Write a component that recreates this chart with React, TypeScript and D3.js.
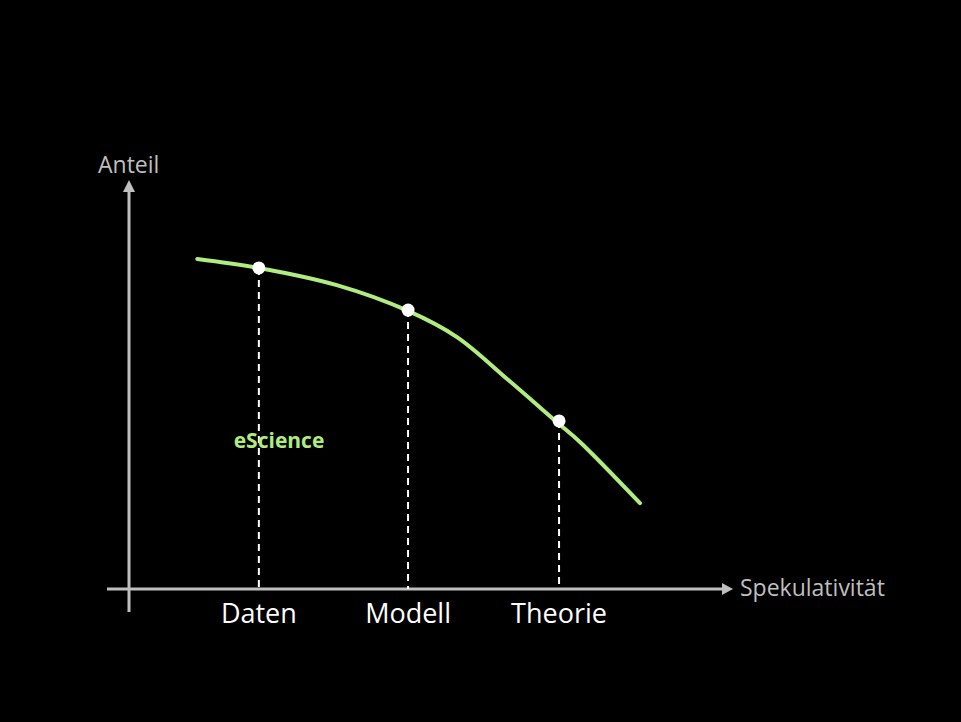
import * as d3 from "d3";

// Curve (x = Spekulativität, y = Anteil, both 0..100)
const curveX = [11.3, 21.5, 34.4, 46.2, 54.3, 62.8, 71.0, 74.7, 84.6];
const curveY = [80.7, 78.5, 74.3, 68.0, 61.6, 51.1, 40.6, 35.9, 21.0];

const categories = ["Daten", "Modell", "Theorie"];
const categoryX = [21.5, 46.2, 71.2];
const categoryY = [78.5, 68.2, 41.1];

const xTitle = "Spekulativität";
const yTitle = "Anteil";
const noteLabel = "eScience";

const W = 961;
const H = 722;
const axisColor = "#bfbfbf";
const green = "#b0ec80";
const font = "'Open Sans', 'Noto Sans', sans-serif";

export default function App() {
  const x = d3.scaleLinear().domain([0, 100]).range([129, 733]);
  const y = d3.scaleLinear().domain([0, 100]).range([589, 180]);

  const pts = curveX.map((v, i) => [v, curveY[i]] as [number, number]);
  const line = d3
    .line<[number, number]>()
    .x((d) => x(d[0]))
    .y((d) => y(d[1]))
    .curve(d3.curveCatmullRom.alpha(0.5));

  const x0 = x(0);
  const y0 = y(0);
  const tipX = x(100);
  const tipY = y(100);

  return (
    <div
      style={{
        position: "fixed",
        left: 0,
        top: 0,
        width: W,
        height: H,
        background: "#000",
      }}
    >
      <svg width={W} height={H} style={{ display: "block" }}>
        <rect width={W} height={H} fill="#000" />

        {/* axes */}
        <line x1={107} x2={tipX - 10} y1={y0} y2={y0} stroke={axisColor} strokeWidth={3} />
        <path
          d={`M${tipX},${y0} L${tipX - 11},${y0 - 6} L${tipX - 11},${y0 + 6} Z`}
          fill={axisColor}
        />
        <line x1={x0} x2={x0} y1={612} y2={tipY + 10} stroke={axisColor} strokeWidth={3} />
        <path
          d={`M${x0},${tipY} L${x0 - 6},${tipY + 12} L${x0 + 6},${tipY + 12} Z`}
          fill={axisColor}
        />

        <text x={98} y={173} fill={axisColor} fontFamily={font} fontSize={23}>
          {yTitle}
        </text>
        <text x={740} y={596} fill={axisColor} fontFamily={font} fontSize={23}>
          {xTitle}
        </text>

        {/* drop lines */}
        {categories.map((c, i) => (
          <line
            key={"d" + c}
            x1={x(categoryX[i])}
            x2={x(categoryX[i])}
            y1={y(categoryY[i])}
            y2={y0}
            stroke="#fff"
            strokeWidth={2}
            strokeDasharray="7,5"
          />
        ))}

        <text
          x={279}
          y={448}
          fill={green}
          fontFamily={font}
          fontWeight="bold"
          fontSize={21}
          textAnchor="middle"
        >
          {noteLabel}
        </text>

        <path d={line(pts) ?? ""} fill="none" stroke={green} strokeWidth={4} strokeLinecap="round" />

        {categories.map((c, i) => (
          <circle key={"p" + c} cx={x(categoryX[i])} cy={y(categoryY[i])} r={6.5} fill="#fff" />
        ))}

        {categories.map((c, i) => (
          <text
            key={"t" + c}
            x={x(categoryX[i])}
            y={623}
            fill="#fff"
            fontFamily={font}
            fontSize={27}
            textAnchor="middle"
          >
            {c}
          </text>
        ))}
      </svg>
    </div>
  );
}
